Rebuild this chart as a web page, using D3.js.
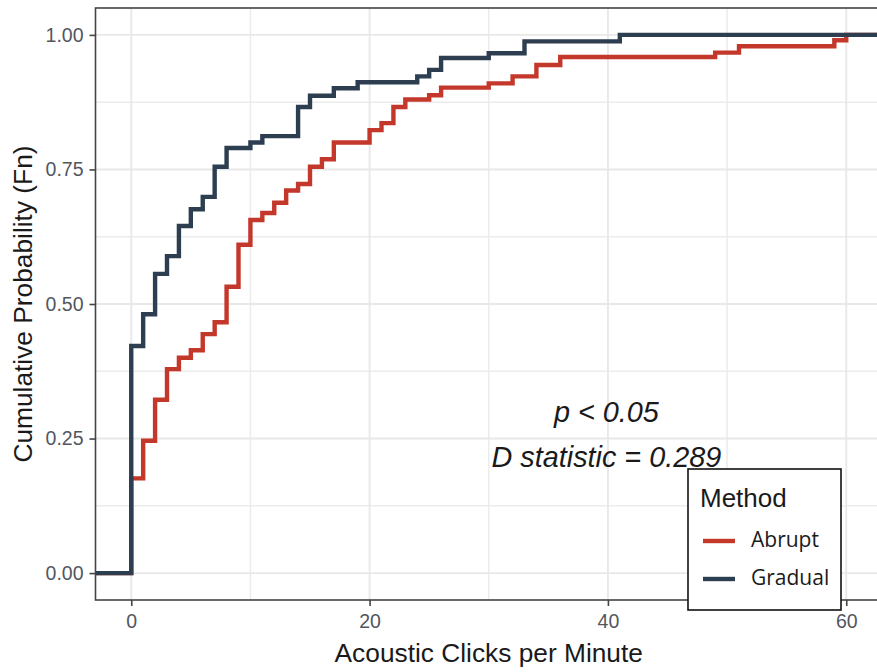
<!DOCTYPE html>
<html>
<head>
<meta charset="utf-8">
<script src="https://cdn.jsdelivr.net/npm/d3@7"></script>
<style>
  html, body { margin: 0; padding: 0; background: #ffffff; }
  svg { display: block; }
  text { font-family: "Liberation Sans", Arial, sans-serif; }
</style>
</head>
<body>
<svg id="chart" width="877" height="672"></svg>
<script>
// Empirical cumulative distribution of click rates per method (step positions and Fn)
const gradualX  = [0, 1, 2, 3, 4, 5, 6, 7, 8, 10, 11, 14, 15, 17, 19, 24, 25, 26, 30, 33, 41];
const gradualFn = [0.422, 0.481, 0.556, 0.589, 0.645, 0.676, 0.699, 0.755, 0.790, 0.800, 0.812,
                   0.866, 0.887, 0.901, 0.912, 0.923, 0.935, 0.957, 0.966, 0.988, 1.000];

const abruptX  = [0, 1, 2, 3, 4, 5, 6, 7, 8, 9, 10, 11, 12, 13, 14, 15, 16, 17, 20, 21, 22, 23,
                  25, 26, 30, 32, 34, 36, 49, 51, 59, 60];
const abruptFn = [0.176, 0.246, 0.322, 0.379, 0.400, 0.414, 0.444, 0.466, 0.532, 0.610, 0.656,
                  0.669, 0.688, 0.711, 0.723, 0.755, 0.769, 0.800, 0.823, 0.836, 0.866, 0.880,
                  0.888, 0.902, 0.910, 0.923, 0.944, 0.959, 0.967, 0.979, 0.990, 1.000];

const methods = ["Abrupt", "Gradual"];
const methodColors = ["#C4372B", "#2C3E50"];

const xTicks = [0, 20, 40, 60];
const yTicks = [0, 0.25, 0.5, 0.75, 1];
const xMinor = [10, 30, 50];
const yMinor = [0.125, 0.375, 0.625, 0.875];

const annotation = ["p < 0.05", "D statistic = 0.289"];

const svg = d3.select("#chart");

const panel = { left: 95.5, right: 882, top: 8, bottom: 600 };

const x = d3.scaleLinear().domain([-3, 63]).range([panel.left, panel.right]);
const y = d3.scaleLinear().domain([-0.05, 1.05]).range([panel.bottom, panel.top]);

svg.append("rect").attr("width", 877).attr("height", 672).attr("fill", "#ffffff");

svg.append("defs").append("clipPath").attr("id", "panel-clip")
  .append("rect")
  .attr("x", panel.left).attr("y", panel.top)
  .attr("width", panel.right - panel.left).attr("height", panel.bottom - panel.top);

// grid
const grid = svg.append("g");
grid.selectAll(".vminor").data(xMinor).join("line")
  .attr("x1", d => x(d)).attr("x2", d => x(d))
  .attr("y1", panel.top).attr("y2", panel.bottom)
  .attr("stroke", "#ECECEC").attr("stroke-width", 1.5);
grid.selectAll(".hminor").data(yMinor).join("line")
  .attr("x1", panel.left).attr("x2", panel.right)
  .attr("y1", d => y(d)).attr("y2", d => y(d))
  .attr("stroke", "#ECECEC").attr("stroke-width", 1.5);
grid.selectAll(".vmajor").data(xTicks).join("line")
  .attr("x1", d => x(d)).attr("x2", d => x(d))
  .attr("y1", panel.top).attr("y2", panel.bottom)
  .attr("stroke", "#E8E8E8").attr("stroke-width", 1.9);
grid.selectAll(".hmajor").data(yTicks).join("line")
  .attr("x1", panel.left).attr("x2", panel.right)
  .attr("y1", d => y(d)).attr("y2", d => y(d))
  .attr("stroke", "#E8E8E8").attr("stroke-width", 1.9);

// step curves, padded out to the panel edges
const [xLo, xHi] = x.domain();
function stepPoints(xs, fs) {
  const pts = [[xLo, 0]];
  xs.forEach((v, i) => pts.push([v, fs[i]]));
  pts.push([xHi, fs[fs.length - 1]]);
  return pts;
}
const line = d3.line().x(d => x(d[0])).y(d => y(d[1])).curve(d3.curveStepAfter);

const series = [
  { name: "Abrupt", pts: stepPoints(abruptX, abruptFn), color: methodColors[0] },
  { name: "Gradual", pts: stepPoints(gradualX, gradualFn), color: methodColors[1] }
];

svg.append("g").attr("clip-path", "url(#panel-clip)")
  .selectAll("path").data(series).join("path")
  .attr("d", d => line(d.pts))
  .attr("fill", "none")
  .attr("stroke", d => d.color)
  .attr("stroke-width", 4.4)
  .attr("stroke-linejoin", "miter")
  .attr("stroke-linecap", "butt");

// panel border
svg.append("rect")
  .attr("x", panel.left).attr("y", panel.top)
  .attr("width", panel.right - panel.left).attr("height", panel.bottom - panel.top)
  .attr("fill", "none").attr("stroke", "#444444").attr("stroke-width", 1.6);

// axes
const yAxis = svg.append("g")
  .attr("transform", `translate(${panel.left},0)`)
  .call(d3.axisLeft(y).tickValues(yTicks).tickFormat(d3.format(".2f")).tickSize(6).tickPadding(6));
const xAxis = svg.append("g")
  .attr("transform", `translate(0,${panel.bottom})`)
  .call(d3.axisBottom(x).tickValues(xTicks).tickFormat(d3.format("d")).tickSize(6).tickPadding(8));

[yAxis, xAxis].forEach(g => {
  g.select(".domain").remove();
  g.selectAll(".tick line").attr("stroke", "#444444").attr("stroke-width", 1.6);
  g.selectAll(".tick text")
    .attr("fill", "#52565f")
    .style("font-size", "19.5px")
    .style("font-family", "'Liberation Sans', Arial, sans-serif");
});

// axis titles
svg.append("text")
  .attr("x", (panel.left + panel.right) / 2).attr("y", 662)
  .attr("text-anchor", "middle")
  .attr("fill", "#1a1a1a")
  .style("font-size", "26.3px")
  .text("Acoustic Clicks per Minute");

svg.append("text")
  .attr("transform", `translate(32,${(panel.top + panel.bottom) / 2}) rotate(-90)`)
  .attr("text-anchor", "middle")
  .attr("fill", "#1a1a1a")
  .style("font-size", "26.3px")
  .text("Cumulative Probability (Fn)");

// test result annotation
svg.append("g").selectAll("text").data(annotation).join("text")
  .attr("x", x(40) - 1.5)
  .attr("y", (d, i) => [421.5, 466.5][i])
  .attr("text-anchor", "middle")
  .attr("fill", "#1a1a1a")
  .style("font-size", "28.8px")
  .style("font-style", "italic")
  .text(d => d);

// legend
const legend = svg.append("g").attr("transform", "translate(688,469)");
legend.append("rect")
  .attr("width", 153).attr("height", 141)
  .attr("fill", "#ffffff").attr("stroke", "#111111").attr("stroke-width", 1.6);
legend.append("text")
  .attr("x", 12).attr("y", 37.5)
  .attr("fill", "#1a1a1a")
  .style("font-size", "26px")
  .text("Method");
const items = legend.selectAll(".item").data(methods).join("g")
  .attr("transform", (d, i) => `translate(0,${72 + i * 38})`);
items.append("line")
  .attr("x1", 15).attr("x2", 47).attr("y1", 0).attr("y2", 0)
  .attr("stroke", (d, i) => methodColors[i]).attr("stroke-width", 4.4);
items.append("text")
  .attr("x", 63).attr("y", 6)
  .attr("fill", "#1a1a1a")
  .style("font-size", "21px")
  .style("font-family", "'Open Sans', 'Noto Sans', sans-serif")
  .text(d => d);
</script>
</body>
</html>
